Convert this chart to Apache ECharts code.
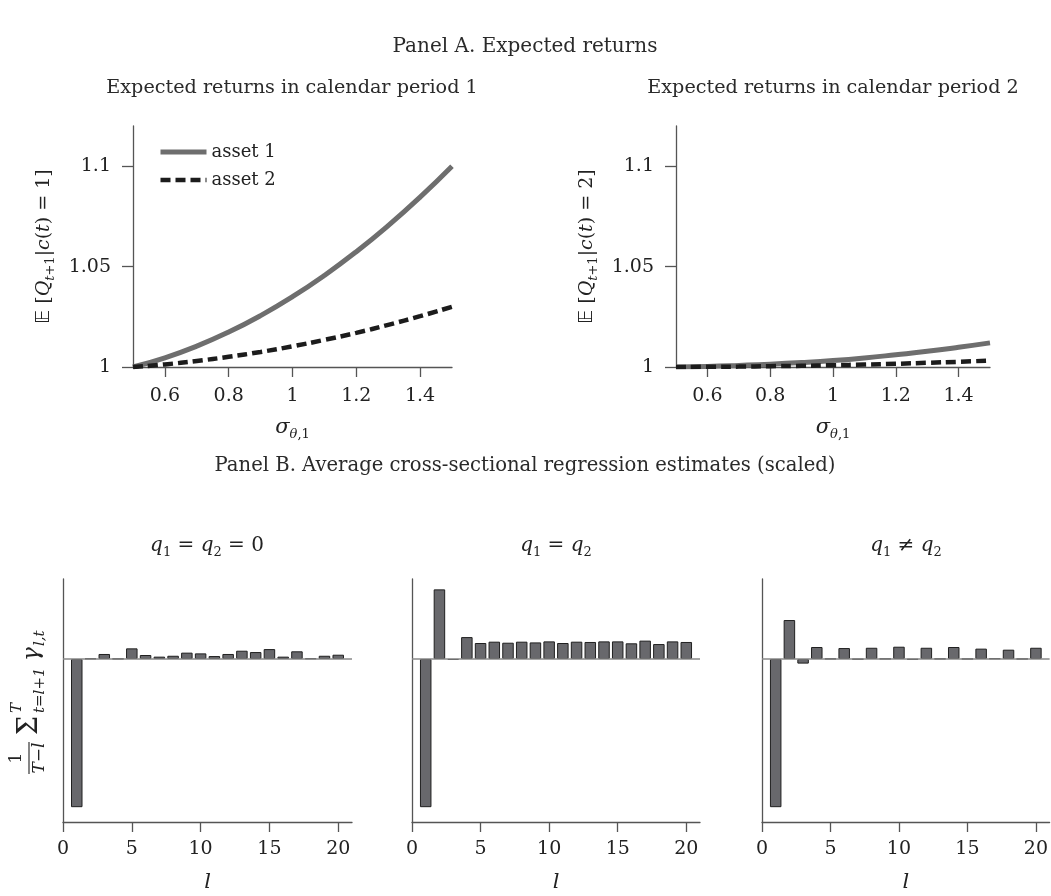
<!DOCTYPE html>
<html><head><meta charset="utf-8">
<script src="https://cdn.jsdelivr.net/npm/echarts@6/dist/echarts.min.js"></script>
<style>html,body{margin:0;padding:0;background:#fff}#c{width:1051px;height:896px}</style>
</head><body><div id="c"></div>
<script>
// ---- data ----
const sigma = [0.5, 0.6, 0.7, 0.8, 0.9, 1.0, 1.1, 1.2, 1.3, 1.4, 1.5];
const period1Asset1 = [1.000, 1.0046, 1.0104, 1.0174, 1.0256, 1.0350, 1.0456, 1.0574, 1.0704, 1.0846, 1.1000];
const period1Asset2 = [1.000, 1.0013, 1.0030, 1.0051, 1.0075, 1.0103, 1.0135, 1.0170, 1.0210, 1.0253, 1.0300];
const period2Asset1 = [1.000, 1.0003, 1.0008, 1.0014, 1.0022, 1.0032, 1.0045, 1.0061, 1.0078, 1.0098, 1.0120];
const period2Asset2 = [1.000, 1.0001, 1.0002, 1.0004, 1.0006, 1.0009, 1.0012, 1.0016, 1.0021, 1.0026, 1.0032];
const lags = [1,2,3,4,5,6,7,8,9,10,11,12,13,14,15,16,17,18,19,20];
const gammaZero  = [-1, 0.003, 0.034, 0.002, 0.072, 0.027, 0.016, 0.022, 0.043, 0.038, 0.020, 0.034, 0.056, 0.047, 0.067, 0.016, 0.052, 0.004, 0.022, 0.029];
const gammaEqual = [-1, 0.470, -0.006, 0.148, 0.108, 0.117, 0.110, 0.117, 0.112, 0.119, 0.108, 0.117, 0.115, 0.119, 0.119, 0.106, 0.124, 0.101, 0.119, 0.115];
const gammaDiff  = [-1, 0.263, -0.031, 0.081, 0.002, 0.074, -0.002, 0.076, 0.002, 0.083, -0.004, 0.076, 0.002, 0.081, 0.001, 0.070, 0.004, 0.063, 0.001, 0.076];
const topXTicks = [0.6, 0.8, 1, 1.2, 1.4];
const topYTicks = [1, 1.05, 1.1];
const botXTicks = [0, 5, 10, 15, 20];

// ---- style ----
const FONT = 'DejaVu Serif';
const TXT = '#222';
const AX = {color: '#555', width: 1.3};
const chart = echarts.init(document.getElementById('c'), null, {renderer: 'canvas'});

const richBase = {
  n: {fontFamily: FONT, fontSize: 19, color: TXT, lineHeight: 26},
  i: {fontFamily: FONT, fontSize: 19, fontStyle: 'italic', color: TXT, lineHeight: 26},
  bb: {fontFamily: 'DejaVu Sans', fontSize: 19, color: TXT, lineHeight: 26},
  s: {fontFamily: FONT, fontSize: 13, fontStyle: 'italic', color: TXT, lineHeight: 13, verticalAlign: 'bottom'},
  su: {fontFamily: FONT, fontSize: 13, color: TXT, lineHeight: 13, verticalAlign: 'bottom'}
};

function topX(gi) {
  return {
    type: 'value', gridIndex: gi, min: 0.5, max: 1.5,
    axisLine: {show: true, onZero: false, lineStyle: AX},
    axisTick: {show: true, length: 10, lineStyle: AX, customValues: topXTicks},
    axisLabel: {customValues: topXTicks, margin: 20, fontFamily: FONT, fontSize: 19, color: TXT, formatter: v => String(v)},
    splitLine: {show: false},
    name: '{i|σ}{s|θ}{su|,1}', nameLocation: 'middle', nameGap: 48,
    nameTextStyle: {rich: Object.assign({}, richBase, {i: Object.assign({}, richBase.i, {fontSize: 21})})}
  };
}
function topY(gi, label) {
  return {
    type: 'value', gridIndex: gi, min: 1, max: 1.12,
    axisLine: {show: true, lineStyle: AX},
    axisTick: {show: true, length: 11, lineStyle: AX, customValues: topYTicks},
    axisLabel: {customValues: topYTicks, margin: 22, fontFamily: FONT, fontSize: 19, color: TXT, formatter: v => String(v)},
    splitLine: {show: false},
    name: '{bb|𝔼}{n| [}{i|Q}{s|t}{su|+1}{n||}{i|c}{n|(}{i|t}{n|) = ' + label + ']}',
    nameLocation: 'middle', nameRotate: 90, nameGap: 76,
    nameTextStyle: {rich: richBase}
  };
}
function botX(gi) {
  return {
    type: 'value', gridIndex: gi, min: 0, max: 21,
    axisLine: {show: true, onZero: false, lineStyle: AX},
    axisTick: {show: true, length: 10, lineStyle: AX, customValues: botXTicks},
    axisLabel: {customValues: botXTicks, margin: 18, fontFamily: FONT, fontSize: 19, color: TXT},
    splitLine: {show: false},
    name: '{i|l}', nameLocation: 'middle', nameGap: 48,
    nameTextStyle: {rich: Object.assign({}, richBase, {i: Object.assign({}, richBase.i, {fontSize: 21})})}
  };
}
function botY(gi) {
  return {
    type: 'value', gridIndex: gi, min: -1.1, max: 0.54,
    axisLine: {show: true, lineStyle: AX},
    axisTick: {show: false}, axisLabel: {show: false}, splitLine: {show: false}
  };
}
const asset1Style = {color: '#6e6e6e', width: 5};
const asset2Style = {color: '#1c1c1c', width: 4.5, type: [10, 5], cap: 'butt'};
function lineSeries(name, gi, vals, dashed) {
  return {
    type: 'line', name: name, xAxisIndex: gi, yAxisIndex: gi,
    data: sigma.map((s, k) => [s, vals[k]]),
    smooth: true, symbol: 'none', showSymbol: false,
    lineStyle: dashed ? asset2Style : asset1Style,
    itemStyle: {color: dashed ? '#1c1c1c' : '#6e6e6e'},
    z: dashed ? 3 : 2
  };
}
function barSeries(gi, vals) {
  return {
    type: 'bar', xAxisIndex: gi, yAxisIndex: gi,
    data: lags.map((l, k) => [l, vals[k]]),
    barWidth: 11.5,
    itemStyle: {color: '#68686c', borderColor: '#202020', borderWidth: 1},
    markLine: {silent: true, symbol: 'none', label: {show: false}, data: [{yAxis: 0}],
      lineStyle: {color: '#888', width: 1.5, type: 'solid'}, animation: false},
    animation: false
  };
}

function qTitle(x, parts) {
  return {type: 'text', x: x, y: 546,
    style: {text: parts, align: 'center', verticalAlign: 'middle', textAlign: 'center', textVerticalAlign: 'middle',
      rich: {
        i: {fontFamily: FONT, fontSize: 20, fontStyle: 'italic', fill: TXT, color: TXT, lineHeight: 26},
        n: {fontFamily: FONT, fontSize: 20, fill: TXT, color: TXT, lineHeight: 26},
        s: {fontFamily: FONT, fontSize: 13, fill: TXT, color: TXT, lineHeight: 13, verticalAlign: 'bottom'}
      }}};
}
function plainText(x, y, text, size) {
  return {type: 'text', x: x, y: y,
    style: {text: text, fontFamily: FONT, fontSize: size, fill: '#2a2a2a',
      align: 'center', verticalAlign: 'middle', textAlign: 'center', textVerticalAlign: 'middle'}};
}
function t(x, y, text, size, italic, align) {
  return {type: 'text', x: x, y: y,
    style: {text: text, fontFamily: FONT, fontSize: size, fontStyle: italic ? 'italic' : 'normal', fill: TXT,
      align: align || 'left', verticalAlign: 'middle', textAlign: align || 'left', textVerticalAlign: 'middle'}};
}

// rotated y label of Panel B: 1/(T-l) Σ_{t=l+1}^T γ_{l,t}
const botYLabel = {
  type: 'group', x: 29, y: 694, rotation: Math.PI / 2,
  children: [
    t(-64, -12, '1', 17, false, 'center'),
    {type: 'line', shape: {x1: -80, y1: 0, x2: -48, y2: 0}, style: {stroke: TXT, lineWidth: 1.1}},
    t(-64, 11, 'T−l', 17, true, 'center'),
    t(-41, 1, 'Σ', 27, false, 'left'),
    t(-19, -12, 'T', 15, true, 'left'),
    t(-19, 11, 't=l+1', 15, true, 'left'),
    t(33, 3, 'γ', 23, true, 'left'),
    t(48, 11, 'l,t', 15, true, 'left')
  ]
};

const option = {
  backgroundColor: '#fff',
  animation: false,
  grid: [
    {left: 133, top: 126, width: 319, height: 241},
    {left: 676, top: 126, width: 314, height: 241},
    {left: 63, top: 579, width: 289, height: 243},
    {left: 412, top: 579, width: 288, height: 243},
    {left: 762, top: 579, width: 288, height: 243}
  ],
  xAxis: [topX(0), topX(1), botX(2), botX(3), botX(4)],
  yAxis: [topY(0, '1'), topY(1, '2'), botY(2), botY(3), botY(4)],
  legend: {
    data: [
      {name: 'asset 1', lineStyle: asset1Style},
      {name: 'asset 2', lineStyle: asset2Style}
    ],
    orient: 'vertical', left: 153, top: 138,
    itemWidth: 46, itemHeight: 14, itemGap: 10,
    itemStyle: {opacity: 0},
    textStyle: {fontFamily: FONT, fontSize: 18, color: TXT}
  },
  graphic: [
    plainText(525, 47, 'Panel A. Expected returns', 20),
    plainText(292, 88, 'Expected returns in calendar period 1', 19.2),
    plainText(833, 88, 'Expected returns in calendar period 2', 19.2),
    plainText(525, 466, 'Panel B. Average cross-sectional regression estimates (scaled)', 19.6),
    qTitle(207, '{i|q}{s|1}{n| = }{i|q}{s|2}{n| = 0}'),
    qTitle(556, '{i|q}{s|1}{n| = }{i|q}{s|2}'),
    qTitle(906, '{i|q}{s|1}{n| ≠ }{i|q}{s|2}'),
    botYLabel
  ],
  series: [
    lineSeries('asset 1', 0, period1Asset1, false),
    lineSeries('asset 2', 0, period1Asset2, true),
    lineSeries('asset 1', 1, period2Asset1, false),
    lineSeries('asset 2', 1, period2Asset2, true),
    barSeries(2, gammaZero),
    barSeries(3, gammaEqual),
    barSeries(4, gammaDiff)
  ]
};
chart.setOption(option);
</script></body></html>
